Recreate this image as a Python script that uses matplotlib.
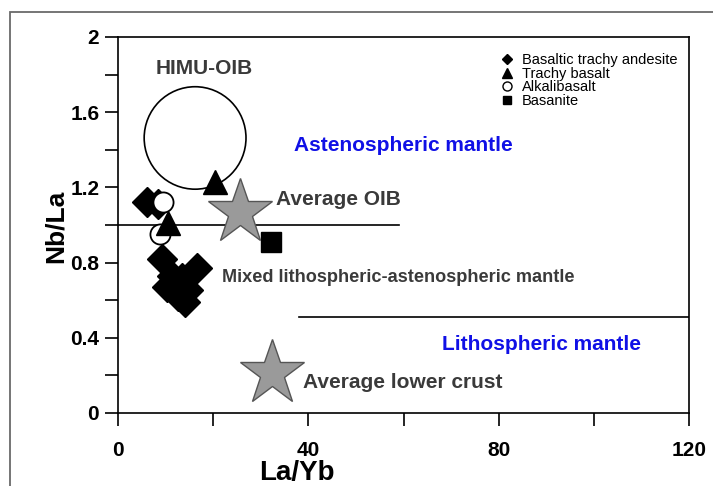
import matplotlib
matplotlib.use("Agg")
import matplotlib.pyplot as plt
from matplotlib.patches import Ellipse, Rectangle
from matplotlib.lines import Line2D

plt.rcParams['font.family'] = ['Liberation Sans', 'DejaVu Sans']

# ---- data ----
bta_x = [6.1, 8.4, 9.2, 16.6, 11.3, 13.4, 10.2, 14.7, 12.6, 14.1]
bta_y = [1.12, 1.11, 0.82, 0.77, 0.73, 0.72, 0.67, 0.655, 0.62, 0.59]
tb_x = [10.5, 20.4]
tb_y = [1.01, 1.23]
ab_x = [9.5, 8.8]
ab_y = [1.12, 0.95]
bas_x = [32.2]
bas_y = [0.91]

ref_names = ["Average OIB", "Average lower crust"]
ref_x = [25.6, 32.4]
ref_y = [1.07, 0.215]

himu_center = (16.2, 1.463)
himu_w, himu_h = 21.4, 0.545

line1_x = [0, 59]
line1_y = [1.0, 1.0]
line2_x = [38, 120]
line2_y = [0.51, 0.51]

xticks = [0, 20, 40, 60, 80, 100, 120]
xticklabels = ["0", "", "40", "", "80", "", "120"]
yticks = [0, 0.2, 0.4, 0.6, 0.8, 1.0, 1.2, 1.4, 1.6, 1.8, 2.0]
yticklabels = ["0", "", "0.4", "", "0.8", "", "1.2", "", "1.6", "", "2"]

legend_labels = ["Basaltic trachy andesite", "Trachy basalt", "Alkalibasalt", "Basanite"]

# ---- figure ----
fig = plt.figure(figsize=(7.13, 4.86), dpi=100)
ax = fig.add_axes([118/713, 1-413/486, (689-118)/713, (413-37)/486])

# outer frame
fig.patches.append(Rectangle((10/713, -0.1), 1.2, 1-12/486+0.1, transform=fig.transFigure,
                             fill=False, edgecolor='#6a6a6a', linewidth=1.3))

ax.set_xlim(0, 120)
ax.set_ylim(0, 2)

ax.add_patch(Ellipse(himu_center, himu_w, himu_h, fill=False, edgecolor='black', linewidth=1.2, zorder=2))
ax.plot(line1_x, line1_y, color='black', linewidth=1.2, zorder=2)
ax.plot(line2_x, line2_y, color='black', linewidth=1.2, zorder=2)

ax.plot(bta_x, bta_y, linestyle='none', marker='D', markersize=15, color='black', zorder=3)
ax.plot(ab_x, ab_y, linestyle='none', marker='o', markersize=14.5, markerfacecolor='white',
        markeredgecolor='black', markeredgewidth=1.3, zorder=4)
ax.plot(tb_x, tb_y, linestyle='none', marker='^', markersize=17, color='black', zorder=5)
ax.plot(bas_x, bas_y, linestyle='none', marker='s', markersize=14, color='black', zorder=5)
ax.plot(ref_x, ref_y, linestyle='none', marker='*', markersize=49, markerfacecolor='#9a9a9a',
        markeredgecolor='#555555', markeredgewidth=1.0, zorder=6)

txt_kw = dict(fontweight='bold', color='#3a3a3a')
ax.text(18.1, 1.83, "HIMU-OIB", ha='center', va='center', fontsize=15, **txt_kw)
ax.text(33.2, 1.133, ref_names[0], ha='left', va='center', fontsize=15, **txt_kw)
ax.text(21.9, 0.72, "Mixed lithospheric-astenospheric mantle", ha='left', va='center', fontsize=13.1, **txt_kw)
ax.text(38.9, 0.16, ref_names[1], ha='left', va='center', fontsize=15, **txt_kw)
ax.text(59.9, 1.425, "Astenospheric mantle", ha='center', va='center', fontsize=15,
        fontweight='bold', color='#1010e6')
ax.text(89.1, 0.362, "Lithospheric mantle", ha='center', va='center', fontsize=15,
        fontweight='bold', color='#1010e6')

# axes styling
for s in ax.spines.values():
    s.set_linewidth(1.2)
ax.set_xticks(xticks)
ax.set_xticklabels(xticklabels)
ax.set_yticks(yticks)
ax.set_yticklabels(yticklabels)
ax.tick_params(axis='both', direction='out', length=9.5, width=1.2, labelsize=15)
ax.tick_params(axis='x', pad=11)
ax.tick_params(axis='y', pad=4)
for lab in ax.get_xticklabels() + ax.get_yticklabels():
    lab.set_fontweight('bold')

fig.text(56/713, 1-226/486, "Nb/La", rotation=90, ha='center', va='center', fontsize=19, fontweight='bold')
fig.text(297/713, 1-473/486, "La/Yb", ha='center', va='center', fontsize=20, fontweight='bold')

# legend
handles = [
    Line2D([], [], linestyle='none', marker='D', markersize=5, color='black'),
    Line2D([], [], linestyle='none', marker='^', markersize=7, color='black'),
    Line2D([], [], linestyle='none', marker='o', markersize=6.5, markerfacecolor='white', markeredgecolor='black'),
    Line2D([], [], linestyle='none', marker='s', markersize=6, color='black'),
]
leg = ax.legend(handles, legend_labels, loc='upper left', bbox_to_anchor=((500-118)/571, (413-53)/376),
                frameon=False, fontsize=10.5, handlelength=1.0, handletextpad=0.5, labelspacing=-0.02,
                borderpad=0, borderaxespad=0)

fig.savefig("out.png", dpi=100)
